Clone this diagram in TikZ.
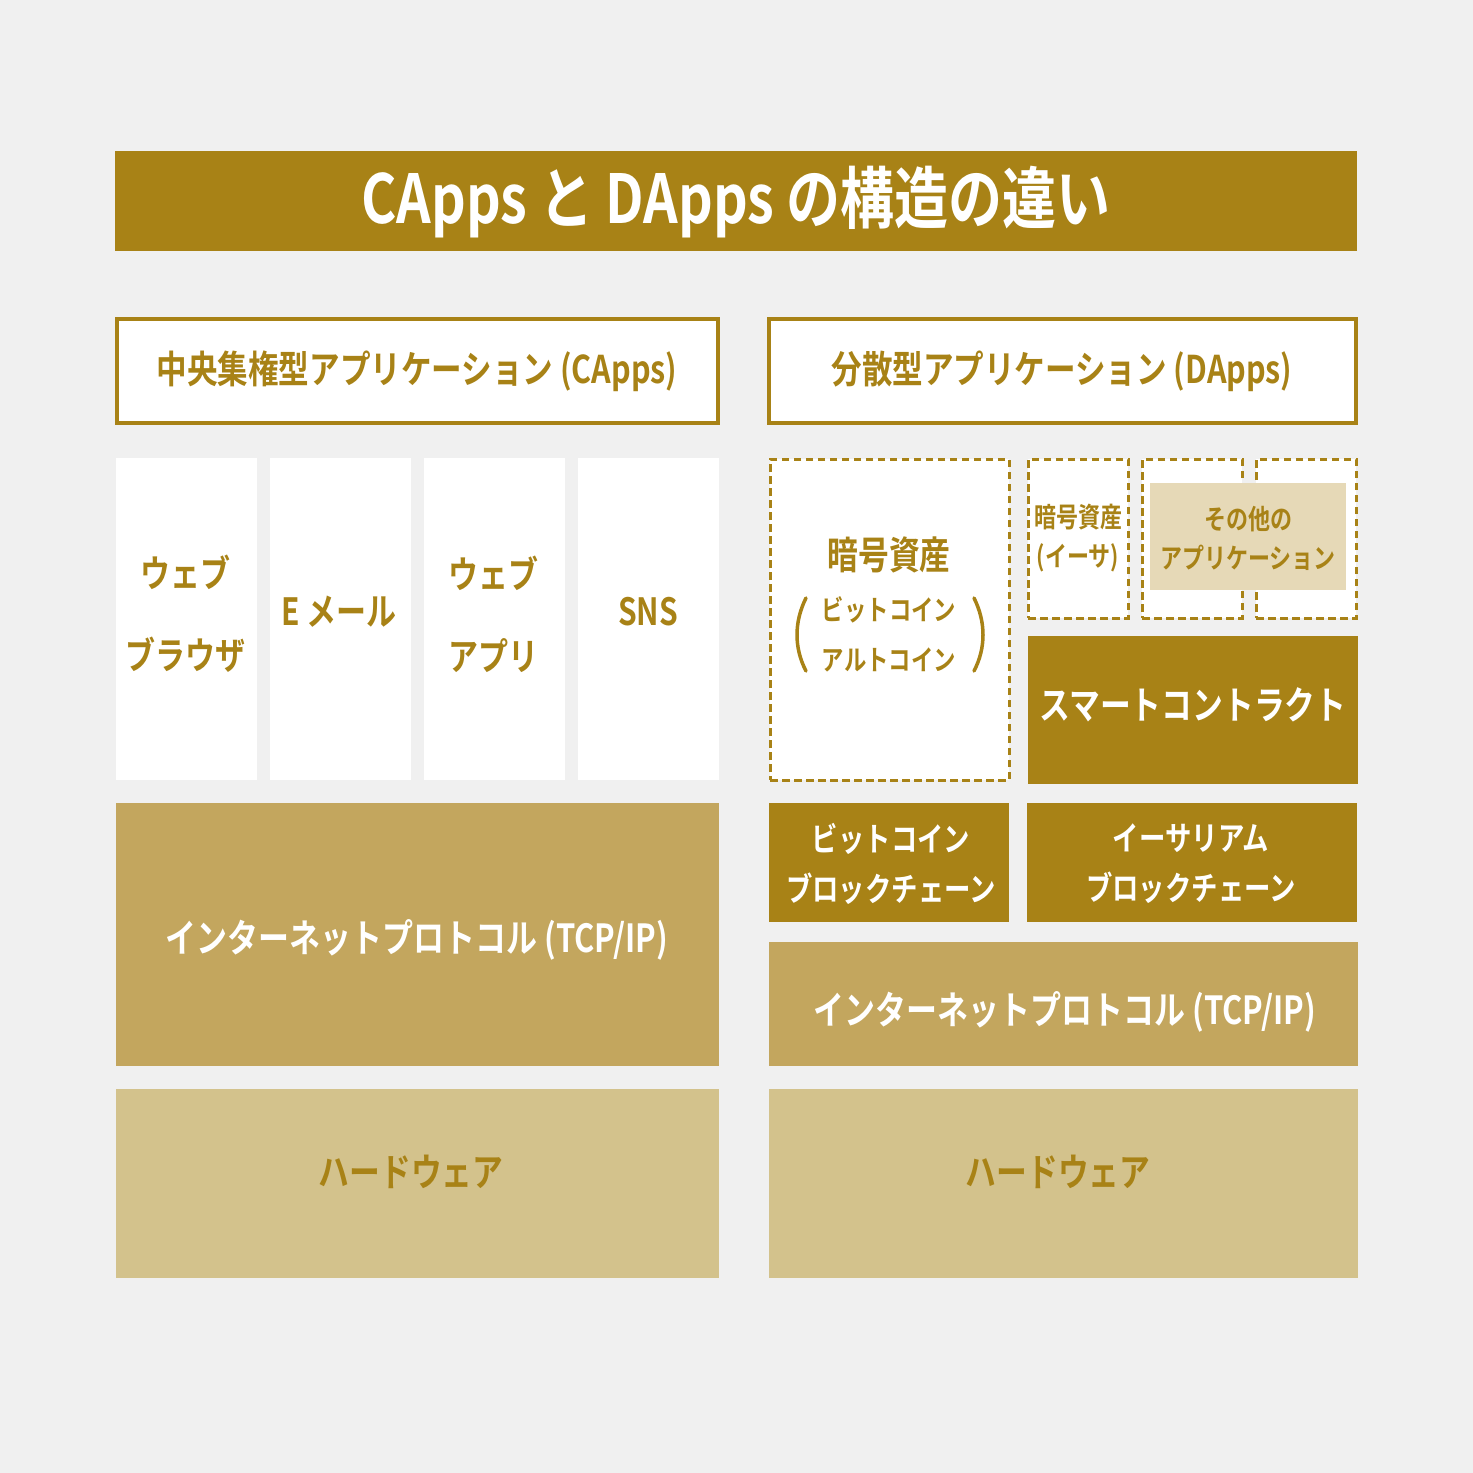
\documentclass[tikz,border=0pt]{standalone}
\usepackage{fontspec}
\setmainfont{Noto Sans CJK JP}[BoldFont={* Bold}, FakeStretch=0.8]
\newfontfamily\jpb{Noto Sans CJK JP Bold}[FakeStretch=0.8]
\definecolor{bgc}{HTML}{F0F0F0}
\definecolor{goldd}{HTML}{A88216}
\definecolor{goldm}{HTML}{C3A65E}
\definecolor{goldl}{HTML}{D3C28C}
\definecolor{beige}{HTML}{E6D9B7}
\tikzset{
  every node/.style={inner sep=0pt, outer sep=0pt},
  box/.style={anchor=north west, rectangle},
  whitebox/.style={box, fill=white},
  framebox/.style={box, fill=white, draw=goldd, line width=4pt},
  dashbox/.style={box, fill=white, draw=goldd, line width=3pt, dash pattern=on 7.5pt off 4.5pt},
  darkbox/.style={box, fill=goldd},
  midbox/.style={box, fill=goldm},
  lightbox/.style={box, fill=goldl},
  beigebox/.style={box, fill=beige},
  gtxt/.style={text=goldd, align=center, font=\jpb\fontsize{#1}{#1}\selectfont},
  gtxt/.default=37,
  wtxt/.style={text=white, align=center, font=\jpb\fontsize{#1}{#1}\selectfont},
  wtxt/.default=38,
  paren/.style={draw=goldd, line width=3.5pt, line cap=round},
}
\begin{document}
\begin{tikzpicture}[x=1pt,y=-1pt]
\fill[bgc] (0,0) rectangle (1473,1473);
\useasboundingbox (0,0) rectangle (1473,1473);

% title
\node[darkbox, minimum width=1242, minimum height=100] (title) at (115,151) {};
\node[wtxt=67.5] (titlet) at (736,202) {CApps と DApps の構造の違い};

% headers
\node[framebox, minimum width=601, minimum height=104] (lhead) at (117,319) {};
\node[gtxt=38.2] (lheadt) at (417,371) {中央集権型アプリケーション (CApps)};
\node[framebox, minimum width=587, minimum height=104] (rhead) at (769,319) {};
\node[gtxt=38.2] (rheadt) at (1062,371) {分散型アプリケーション (DApps)};

% left columns
\node[whitebox, minimum width=141, minimum height=322] (c1) at (116,458) {};
\node[whitebox, minimum width=141, minimum height=322] (c2) at (270,458) {};
\node[whitebox, minimum width=141, minimum height=322] (c3) at (424,458) {};
\node[whitebox, minimum width=141, minimum height=322] (c4) at (578,458) {};
\node[text=goldd, align=center, font=\jpb\fontsize{37.5}{82}\selectfont] (c1t) at (185,614) {ウェブ\\ブラウザ};
\node[gtxt=37.5] (c2t) at (339,612) {E メール};
\node[text=goldd, align=center, font=\jpb\fontsize{37.5}{82}\selectfont] (c3t) at (493,614) {ウェブ\\アプリ};
\node[gtxt=37.5] (c4t) at (648,612) {SNS};

% left lower layers
\node[midbox, minimum width=603, minimum height=263] (linet) at (116,803) {};
\node[wtxt=38.7] (linett) at (417,940) {インターネットプロトコル (TCP/IP)};
\node[lightbox, minimum width=603, minimum height=189] (lhw) at (116,1089) {};
\node[gtxt=38.5] (lhwt) at (411,1172) {ハードウェア};

% right: crypto assets
\node[dashbox, minimum width=239, minimum height=321] (crypto) at (770,459) {};
\node[gtxt=38.5] (cryptot) at (889,555) {暗号資産};
\node[text=goldd, align=center, font=\jpb\fontsize{28}{50}\selectfont] (cryptos) at (889,634) {ビットコイン\\アルトコイン};
\draw[paren] (806,598) .. controls (794,622) and (794,648) .. (806,671);
\draw[paren] (974,598) .. controls (986,622) and (986,648) .. (974,671);

% small dashed boxes
\node[dashbox, minimum width=100, minimum height=159] (eth) at (1028,459) {};
\node[text=goldd, align=center, font=\jpb\fontsize{27.5}{39}\selectfont] (etht) at (1078,538) {暗号資産\\(イーサ)};
\node[dashbox, minimum width=100, minimum height=159] (o1) at (1142,459) {};
\node[dashbox, minimum width=100, minimum height=159] (o2) at (1256,459) {};
\node[beigebox, minimum width=196, minimum height=107] (other) at (1150,483) {};
\node[text=goldd, align=center, font=\jpb\fontsize{27.5}{39}\selectfont] (othert) at (1248,538) {その他の\\アプリケーション};

% smart contract
\node[darkbox, minimum width=330, minimum height=148] (sc) at (1028,636) {};
\node[wtxt=38.5] (sct) at (1193,705) {スマートコントラクト};

% blockchains
\node[darkbox, minimum width=240, minimum height=119] (btc) at (769,803) {};
\node[text=white, align=center, font=\jpb\fontsize{33}{50}\selectfont] (btct) at (891,864) {ビットコイン\\ブロックチェーン};
\node[darkbox, minimum width=330, minimum height=119] (ethc) at (1027,803) {};
\node[text=white, align=center, font=\jpb\fontsize{33}{50}\selectfont] (ethct) at (1191,864) {イーサリアム\\ブロックチェーン};

% right lower layers
\node[midbox, minimum width=589, minimum height=124] (rinet) at (769,942) {};
\node[wtxt=38.7] (rinett) at (1065,1012) {インターネットプロトコル (TCP/IP)};
\node[lightbox, minimum width=589, minimum height=189] (rhw) at (769,1089) {};
\node[gtxt=38.5] (rhwt) at (1058,1172) {ハードウェア};
\end{tikzpicture}
\end{document}
